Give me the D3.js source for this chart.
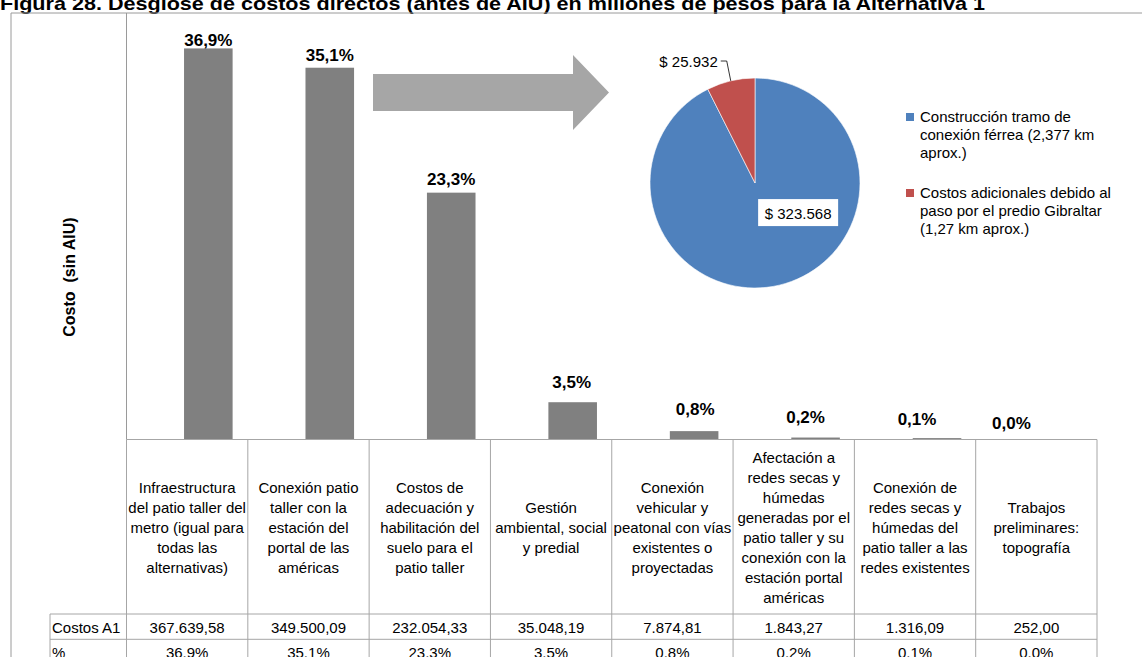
<!DOCTYPE html>
<html>
<head>
<meta charset="utf-8">
<script src="https://cdn.jsdelivr.net/npm/d3@7"></script>
<style>
  html, body { margin: 0; padding: 0; background: #ffffff; }
  svg { display: block; font-family: "Liberation Sans", Arial, sans-serif; }
</style>
</head>
<body>
<svg id="chart" width="1142" height="657"></svg>
<script>
// ---- data ----
const titleText = "Figura 28. Desglose de costos directos (antes de AIU) en millones de pesos para la Alternativa 1";
const axisTitle = "Costo  (sin AIU)";

// category names, already broken into the lines shown in the table header
const categoryLines = [
  ["Infraestructura", "del patio taller del", "metro (igual para", "todas las", "alternativas)"],
  ["Conexión patio", "taller con la", "estación del", "portal de las", "américas"],
  ["Costos de", "adecuación y", "habilitación del", "suelo para el", "patio taller"],
  ["Gestión", "ambiental, social", "y predial"],
  ["Conexión", "vehicular y", "peatonal con vías", "existentes o", "proyectadas"],
  ["Afectación a", "redes secas y", "húmedas", "generadas por el", "patio taller y su", "conexión con la", "estación portal", "américas"],
  ["Conexión de", "redes secas y", "húmedas del", "patio taller a las", "redes existentes"],
  ["Trabajos", "preliminares:", "topografía"]
];

// direct costs of Alternativa 1, millions of pesos
const costsA1 = [367639.58, 349500.09, 232054.33, 35048.19, 7874.81, 1843.27, 1316.09, 252.00];
const rowNames = ["Costos A1", "%"];
const yTicks = [0, 400000];

// breakdown of the "Conexión patio taller" item
const pieNames = [
  ["Construcción tramo de", "conexión férrea (2,377 km", "aprox.)"],
  ["Costos adicionales debido al", "paso por el predio Gibraltar", "(1,27 km aprox.)"]
];
const pieValues = [323568, 25932];
const pieColors = ["#4f81bd", "#c0504d"];

// ---- formatting ----
const esLocale = d3.formatLocale({ decimal: ",", thousands: ".", grouping: [3], currency: ["$ ", ""] });
const fmtCost = esLocale.format(",.2f");
const fmtMoney = esLocale.format("$,.0f");
const fmtPctComma = v => esLocale.format(".1f")(v * 100) + "%";
const fmtPctDot = v => d3.format(".1f")(v * 100) + "%";

const total = d3.sum(costsA1);
const shares = costsA1.map(v => v / total);

// ---- layout ----
const svg = d3.select("#chart");
const lineColor = "#a6a6a6";
const frameColor = "#9a9a9a";
const plotTop = 13, baseY = 439.5;
const tableLeft = 126.5, tableRight = 1097, labelCellLeft = 50;
const rowY = [614, 639.3, 664];

const y = d3.scaleLinear().domain(d3.extent(yTicks)).range([baseY, 14]);
const xBar = d3.scaleBand().domain(d3.range(costsA1.length))
  .range([147.6, 1119.2]).paddingInner(0.6).paddingOuter(0.3);
const xCol = d3.scaleBand().domain(d3.range(costsA1.length)).range([tableLeft, tableRight]);

// title (top partly clipped by the page edge)
svg.append("text")
  .attr("x", 0).attr("y", 10)
  .attr("font-size", 19).attr("font-weight", "bold")
  .attr("textLength", 985).attr("lengthAdjust", "spacingAndGlyphs")
  .attr("fill", "#000")
  .text(titleText);

// outer frame
svg.append("line").attr("x1", 11).attr("y1", 13).attr("x2", 1142).attr("y2", 13)
  .attr("stroke", frameColor).attr("stroke-width", 1);
svg.append("line").attr("x1", 11).attr("y1", 13).attr("x2", 11).attr("y2", 657)
  .attr("stroke", frameColor).attr("stroke-width", 1);

// plot-area left edge
svg.append("line").attr("x1", tableLeft).attr("y1", plotTop).attr("x2", tableLeft).attr("y2", baseY)
  .attr("stroke", frameColor).attr("stroke-width", 1);

// y-axis title
svg.append("text")
  .attr("transform", "translate(75,277) rotate(-90)")
  .attr("text-anchor", "middle")
  .attr("font-size", 16).attr("font-weight", "bold")
  .attr("xml:space", "preserve")
  .style("white-space", "pre")
  .text(axisTitle);

// bars
svg.append("g").selectAll("rect")
  .data(costsA1)
  .join("rect")
  .attr("x", (d, i) => xBar(i))
  .attr("y", d => y(d))
  .attr("width", xBar.bandwidth())
  .attr("height", d => y(0) - y(d))
  .attr("fill", "#808080");

// bar value labels (small bars get lifted / shifted to keep labels apart)
const labelShift = [[0, -2], [0, -7], [0, -8], [-1, -14], [1, -16], [-10, -15], [-20, -13], [-47, -10]];
svg.append("g").selectAll("text")
  .data(shares)
  .join("text")
  .attr("x", (d, i) => xBar(i) + xBar.bandwidth() / 2 + labelShift[i][0])
  .attr("y", (d, i) => y(costsA1[i]) + labelShift[i][1])
  .attr("text-anchor", "middle")
  .attr("font-size", 17).attr("font-weight", "bold")
  .text(d => fmtPctComma(d));

// ---- data table ----
const grid = svg.append("g").attr("stroke", lineColor).attr("stroke-width", 1);
grid.append("line").attr("x1", tableLeft).attr("x2", tableRight).attr("y1", baseY).attr("y2", baseY);
rowY.slice(0, 2).forEach(ry => {
  grid.append("line").attr("x1", labelCellLeft).attr("x2", tableRight).attr("y1", ry).attr("y2", ry);
});
grid.append("line").attr("x1", labelCellLeft).attr("x2", labelCellLeft).attr("y1", rowY[0]).attr("y2", 657);
d3.range(costsA1.length + 1).forEach(i => {
  const xv = i < costsA1.length ? xCol(i) : tableRight;
  grid.append("line").attr("x1", xv).attr("x2", xv).attr("y1", baseY).attr("y2", 657);
});

// category header text, centred in each column
const lineH = 20, headerMid = 528;
const headers = svg.append("g").attr("font-size", 15).attr("text-anchor", "middle").attr("fill", "#000");
categoryLines.forEach((lines, i) => {
  const cx = xCol(i) + xCol.bandwidth() / 2;
  const first = headerMid - (lines.length - 1) * lineH / 2 + 5;
  const t = headers.append("text");
  lines.forEach((ln, k) => {
    t.append("tspan").attr("x", cx).attr("y", first + k * lineH).text(ln);
  });
});

// row labels and values
const rows = svg.append("g").attr("font-size", 15).attr("fill", "#000");
rows.append("text").attr("x", 52).attr("y", 633).text(rowNames[0]);
rows.append("text").attr("x", 52).attr("y", 658).text(rowNames[1]);
rows.selectAll("text.cost").data(costsA1).join("text").attr("class", "cost")
  .attr("x", (d, i) => xCol(i) + xCol.bandwidth() / 2).attr("y", 633)
  .attr("text-anchor", "middle").text(d => fmtCost(d));
rows.selectAll("text.pct").data(shares).join("text").attr("class", "pct")
  .attr("x", (d, i) => xCol(i) + xCol.bandwidth() / 2).attr("y", 658)
  .attr("text-anchor", "middle").text(d => fmtPctDot(d));

// ---- arrow pointing to the breakdown ----
svg.append("path")
  .attr("d", "M373,74 L573,74 L573,55 L609,92.5 L573,130 L573,111 L373,111 Z")
  .attr("fill", "#a6a6a6");

// ---- pie of the connection cost ----
const pcx = 755, pcy = 183, pr = 105;
const pieGen = d3.pie().sort(null).value(d => d);
const arcs = pieGen(pieValues);
const arcGen = d3.arc().innerRadius(0).outerRadius(pr);
const pieG = svg.append("g").attr("transform", `translate(${pcx},${pcy})`);
pieG.selectAll("path").data(arcs).join("path")
  .attr("d", arcGen)
  .attr("fill", (d, i) => pieColors[i])
  .attr("stroke", "#ffffff").attr("stroke-width", 0.6);

// label inside the large slice, on a white box
{
  const c = arcGen.centroid(arcs[0]);
  const lx = c[0] + 31, ly = c[1] - 21;
  const txt = fmtMoney(pieValues[0]);
  pieG.append("rect").attr("x", lx - 40).attr("y", ly - 14).attr("width", 80).attr("height", 27).attr("fill", "#fff");
  pieG.append("text").attr("x", lx).attr("y", ly + 5.5).attr("text-anchor", "middle")
    .attr("font-size", 15).text(txt);
}
// label outside the small slice with a leader line
{
  const a = (arcs[1].startAngle + arcs[1].endAngle) / 2;
  const ex = Math.sin(a) * pr, ey = -Math.cos(a) * pr;
  const hx = ex - 4, hy = -pr - 17;
  pieG.append("polyline")
    .attr("points", `${ex},${ey} ${hx},${hy} ${hx - 6},${hy}`)
    .attr("fill", "none").attr("stroke", "#000").attr("stroke-width", 0.8);
  pieG.append("text").attr("x", hx - 9).attr("y", hy + 5.5).attr("text-anchor", "end")
    .attr("font-size", 15).text(fmtMoney(pieValues[1]));
}

// legend
const legend = svg.append("g").attr("font-size", 15).attr("fill", "#000");
const legendTop = [113, 189];
pieNames.forEach((lines, i) => {
  legend.append("rect").attr("x", 906).attr("y", legendTop[i]).attr("width", 8).attr("height", 8)
    .attr("fill", pieColors[i]);
  const t = legend.append("text");
  lines.forEach((ln, k) => {
    t.append("tspan").attr("x", 920).attr("y", legendTop[i] + 9 + k * 18).text(ln);
  });
});
</script>
</body>
</html>
